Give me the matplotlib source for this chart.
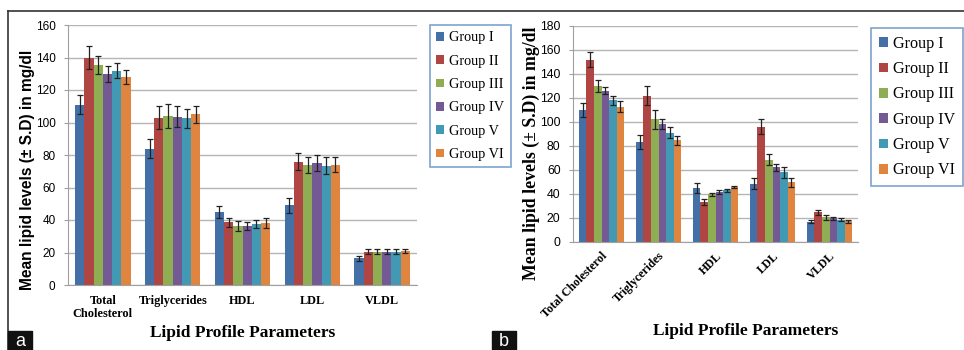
import numpy as np
import matplotlib.pyplot as plt
from matplotlib.patches import Rectangle
from matplotlib.lines import Line2D

# data
params = ["Total Cholesterol", "Triglycerides", "HDL", "LDL", "VLDL"]
params_a = ["Total\nCholesterol", "Triglycerides", "HDL", "LDL", "VLDL"]
groups = ["Group I", "Group II", "Group III", "Group IV", "Group V", "Group VI"]
colors = ["#4470A8", "#B04644", "#8FAE53", "#735A95", "#4199B3", "#E08540"]

# panel a: mean and SD per group (rows), per parameter (cols)
mean_a = [
    [111, 84, 45, 49, 16.5],
    [140, 103, 38.5, 76, 20.5],
    [135.5, 104, 36.5, 74, 20.5],
    [130, 103.5, 36.5, 75, 20.5],
    [132, 102.5, 37.5, 73.5, 20.5],
    [128, 105, 38, 74, 21],
]
sd_a = [
    [6, 6, 3.5, 4.5, 1.5],
    [7, 7, 3, 5, 1.5],
    [5.5, 7.5, 3, 5, 1.5],
    [5, 6.5, 2.5, 5, 1.5],
    [4.5, 6, 2.5, 5, 1.5],
    [4.5, 5, 3, 4.5, 1],
]

# panel b
mean_b = [
    [110, 83, 45, 48.5, 16.7],
    [152, 122, 33, 96, 24.5],
    [130, 102, 39.5, 68.5, 20.3],
    [126, 98, 41.5, 62, 19.5],
    [118, 91, 43, 58, 18.4],
    [112.5, 84.5, 45.6, 49.5, 17],
]
sd_b = [
    [6, 6, 4, 4.5, 1.5],
    [6.5, 8, 2.5, 6.5, 2],
    [5, 8, 1.5, 4.5, 2],
    [3, 4, 1.5, 3, 1],
    [4, 4.5, 1.2, 4.5, 1],
    [4.5, 4, 1.2, 4, 1],
]

W, H = 964, 350
fig = plt.figure(figsize=(W / 100, H / 100), dpi=100)


def px_axes(x0, y0, x1, y1):
    # pixel box (top-left origin) -> figure axes
    return fig.add_axes([x0 / W, 1 - y1 / H, (x1 - x0) / W, (y1 - y0) / H])


def draw_bars(ax, means, sds, ymax, step, tsize):
    x = np.arange(len(params))
    bw = 0.795 / len(groups)
    for i, g in enumerate(groups):
        pos = x - 0.795 / 2 + bw * (i + 0.5)
        ax.bar(pos, means[i], width=bw, color=colors[i], label=g, zorder=2)
        ax.errorbar(pos, means[i], yerr=sds[i], fmt="none", ecolor="#222222",
                    elinewidth=0.9, capsize=2.2, capthick=0.9, zorder=3)
    ax.set_xlim(-0.5, len(params) - 0.5)
    ax.set_ylim(0, ymax)
    ax.set_yticks(np.arange(0, ymax + 1, step))
    ax.yaxis.grid(True, color="#B5B5B5", lw=1, zorder=0)
    ax.set_axisbelow(True)
    for s in ["top", "right"]:
        ax.spines[s].set_visible(False)
    ax.spines["left"].set_color("#A0A0A0")
    ax.spines["bottom"].set_color("#A0A0A0")
    ax.tick_params(axis="y", length=3, color="#A0A0A0", labelsize=tsize, pad=6)
    ax.tick_params(axis="x", length=0)
    for t in ax.get_yticklabels():
        t.set_family("Liberation Sans")
    ax.set_xticks(x)


# ---------------- panel a ----------------
ax1 = px_axes(68, 25, 417, 285)
draw_bars(ax1, mean_a, sd_a, 160, 20, 8.5)
ax1.set_xticklabels(params_a, family="Liberation Serif", weight="bold",
                    fontsize=8.8, linespacing=1.15)
ax1.tick_params(axis="x", pad=7)
fig.text(28 / W, 1 - 170 / H, "Mean lipid levels (\u00b1 S.D) in mg/dl",
         rotation=90, ha="center", va="center", family="Liberation Sans",
         weight="bold", fontsize=11.2)
fig.text(243 / W, 1 - 333 / H, "Lipid Profile Parameters", ha="center",
         va="center", family="Liberation Serif", weight="bold", fontsize=12.5)

# ---------------- panel b ----------------
ax2 = px_axes(573, 26, 858, 241.7)
draw_bars(ax2, mean_b, sd_b, 180, 20, 8.8)
ax2.set_xticklabels(params, family="Liberation Serif", weight="bold",
                    fontsize=8.6, rotation=45, ha="right", rotation_mode="anchor")
ax2.tick_params(axis="x", pad=6)
fig.text(531 / W, 1 - 153 / H, "Mean lipid levels (\u00b1 S.D) in mg/dl",
         rotation=90, ha="center", va="center", family="Liberation Serif",
         weight="bold", fontsize=12.8)
fig.text(746 / W, 1 - 331 / H, "Lipid Profile Parameters", ha="center",
         va="center", family="Liberation Serif", weight="bold", fontsize=12.5)

# legends
h, l = ax1.get_legend_handles_labels()
leg1 = fig.legend(h, l, loc="upper left", bbox_to_anchor=(430 / W, 1 - 25 / H),
                  prop={"family": "Liberation Serif", "size": 10.3},
                  handlelength=0.55, handleheight=0.55, handletextpad=0.35,
                  labelspacing=0.72, borderpad=0.45, borderaxespad=0,
                  fancybox=False, edgecolor="#7FA3D0", framealpha=1)
leg1.get_frame().set_linewidth(1.2)
leg2 = fig.legend(h, l, loc="upper left", bbox_to_anchor=(871 / W, 1 - 28 / H),
                  prop={"family": "Liberation Serif", "size": 11.6},
                  handlelength=0.55, handleheight=0.55, handletextpad=0.35,
                  labelspacing=0.58, borderpad=0.48, borderaxespad=0,
                  fancybox=False, edgecolor="#7FA3D0", framealpha=1)
leg2.get_frame().set_linewidth(1.2)

# outer frame lines
fig.add_artist(Line2D([8 / W, 1], [1 - 11 / H, 1 - 11 / H], color="#333333", lw=1.2))
fig.add_artist(Line2D([8 / W, 8 / W], [0, 1 - 11 / H], color="#333333", lw=1.2))

# panel letters
for lx, letter in [(8, "a"), (492, "b")]:
    fig.add_artist(Rectangle((lx / W, 0), 24 / W, 19 / H, transform=fig.transFigure,
                             color="#111111", zorder=5))
    fig.text((lx + 12) / W, 8.5 / H, letter, color="white", ha="center",
             va="center", fontsize=13, family="Liberation Sans", zorder=6)

fig.savefig("out.png", dpi=100)
